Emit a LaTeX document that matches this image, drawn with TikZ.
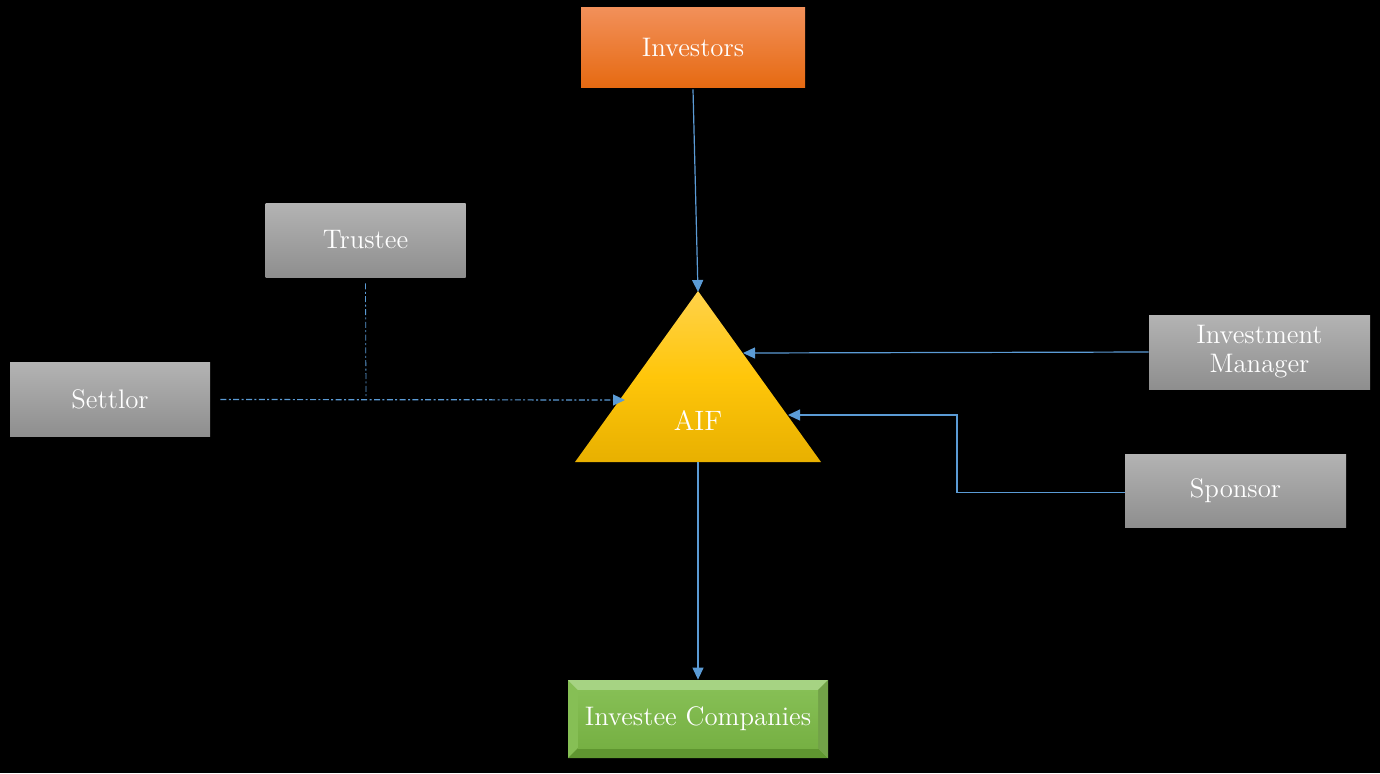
\documentclass[tikz,border=0pt]{standalone}
\usetikzlibrary{arrows.meta,shapes.geometric}
\definecolor{lnblue}{HTML}{5B9BD5}
\definecolor{orgtop}{HTML}{F2905A}
\definecolor{orgbot}{HTML}{E66A12}
\definecolor{grytop}{HTML}{B3B3B3}
\definecolor{grybot}{HTML}{8E8E8E}
\definecolor{yeltop}{HTML}{FFD24A}
\definecolor{yelmid}{HTML}{FFC60A}
\definecolor{yelbot}{HTML}{E8B000}
\definecolor{grnmid}{HTML}{76B043}
\definecolor{grntop}{HTML}{A6D383}
\definecolor{grnbot}{HTML}{5F9630}
\definecolor{grnside}{HTML}{86BF55}
\begin{document}
\begin{tikzpicture}[x=0.5pt,y=-0.5pt,
  lbl/.style={text=white,font=\fontsize{13.4}{14.5}\selectfont,align=center},
  graybox/.style={lbl,top color=grytop,bottom color=grybot,draw=none,minimum width=100pt,minimum height=37pt,inner sep=0pt},
  conn/.style={draw=lnblue,line width=0.6pt},
  tip/.style={-{Triangle[length=6pt,width=5.5pt]}},
  dd/.style={dash pattern=on 3pt off 1.2pt on 1pt off 1.2pt}]
\useasboundingbox (0,0) rectangle (1380,773);
\fill[black] (0,0) rectangle (1380,773);

% Investors
\node[lbl,top color=orgtop,bottom color=orgbot,minimum width=112pt,minimum height=40pt,inner sep=0pt] (inv) at (693,47) {Investors};

% Gray boxes
\node[graybox] (trus) at (365.5,240) {Trustee};
\node[graybox] (sett) at (110,399.5) {Settlor};
\node[graybox,minimum width=110.5pt] (im) at (1259.5,352) {Investment\\Manager};
\node[graybox,minimum width=110.5pt,minimum height=36.5pt] (spon) at (1235.5,490.5) {Sponsor};

% Triangle AIF
\shade[top color=yeltop,bottom color=yelbot,middle color=yelmid] (698,291) -- (821,462) -- (575,462) -- cycle;
\coordinate (apex) at (698,292);
\coordinate (base) at (698,462);
\coordinate (imin) at (743,353);
\coordinate (spin) at (788,415);
\coordinate (stin) at (625,400);
\node[lbl,font=\fontsize{14}{16}\selectfont] (aif) at (698,420) {AIF};

% Investee Companies (bevelled)
\fill[grnside] (568,680) rectangle (828,758);
\fill[grntop] (568,680) -- (828,680) -- (818,690) -- (578,690) -- cycle;
\fill[grnbot] (568,758) -- (828,758) -- (818,748) -- (578,748) -- cycle;
\fill[grnside!85!black] (828,680) -- (828,758) -- (818,748) -- (818,690) -- cycle;
\shade[top color=grnside,bottom color=grnmid] (578,690) rectangle (818,748);
\node[lbl,inner sep=0pt,minimum width=130pt,minimum height=39pt] (ic) at (698,719) {Investee Companies};

% Connectors
\draw[conn,tip] ([yshift=-1pt]inv.south) -- (apex);
\draw[conn,tip] (base) -- (ic.north);
\draw[conn,tip] (im.west) -- (imin);
\draw[conn,tip] ([yshift=-1pt]spon.west) -| (957,415) -- (spin);
\draw[conn,dd,tip] ([xshift=5pt]sett.east) -- (stin);
\draw[conn,dd,line width=0.4pt] ([yshift=-3pt]trus.south) -- (366,398);
\end{tikzpicture}
\end{document}
